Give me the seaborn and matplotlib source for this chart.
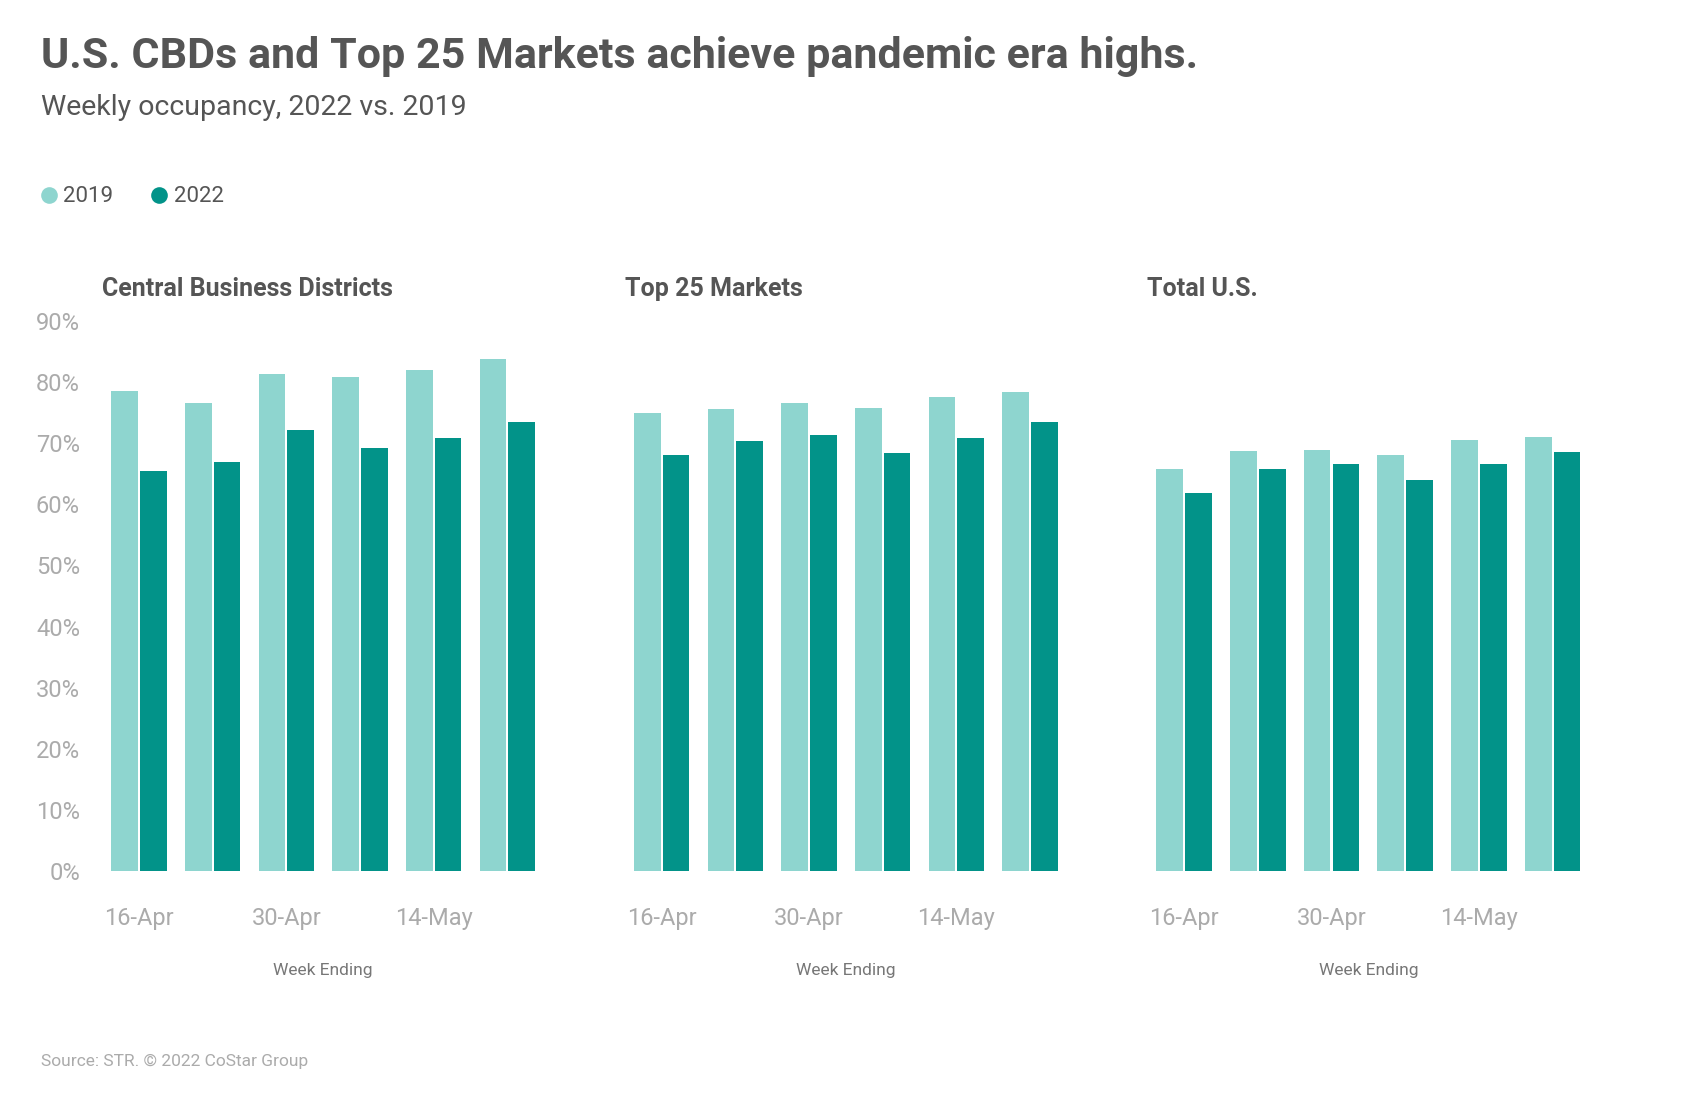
import pandas as pd
import matplotlib
matplotlib.use("Agg")
import matplotlib.pyplot as plt
import seaborn as sns
from matplotlib import font_manager
from matplotlib.lines import Line2D
from matplotlib.ticker import PercentFormatter

# ==========================================
# DATA (weekly occupancy, %)
# ==========================================
WEEKS = ["16-Apr", "23-Apr", "30-Apr", "7-May", "14-May", "21-May"]
YEARS = ["2019", "2022"]
PANELS = ["Central Business Districts", "Top 25 Markets", "Total U.S."]

cbd_2019 = [78.6, 76.5, 81.4, 80.8, 81.9, 83.8]
cbd_2022 = [65.4, 67.0, 72.2, 69.2, 70.9, 73.4]
top25_2019 = [75.0, 75.6, 76.6, 75.8, 77.6, 78.3]
top25_2022 = [68.0, 70.3, 71.4, 68.4, 70.9, 73.4]
total_2019 = [65.7, 68.8, 68.9, 68.1, 70.6, 71.0]
total_2022 = [61.9, 65.8, 66.6, 63.9, 66.6, 68.6]

COLORS = {"2019": "#8ED5CF", "2022": "#029389"}
DARK = "#555555"
LIGHT = "#ABABAB"

# ==========================================
# FONT
# ==========================================
installed = {f.name for f in font_manager.fontManager.ttflist}
FONT = "Liberation Sans Narrow" if "Liberation Sans Narrow" in installed else "Roboto"

sns.set_theme(style="white")
plt.rcParams["font.family"] = [FONT, "DejaVu Sans"]

# long-form table for seaborn
series = {
    PANELS[0]: (cbd_2019, cbd_2022),
    PANELS[1]: (top25_2019, top25_2022),
    PANELS[2]: (total_2019, total_2022),
}
rows = []
for panel, (v19, v22) in series.items():
    for year, vals in zip(YEARS, (v19, v22)):
        for week, v in zip(WEEKS, vals):
            rows.append({"panel": panel, "week": week, "year": year, "occ": v})
df = pd.DataFrame(rows)

# ==========================================
# FIGURE
# ==========================================
fig = plt.figure(figsize=(16.84, 10.94), dpi=100)

left0, pitch, width = 0.0607, 0.3103, 0.2625
bottom, height = 0.2038, 0.5028

for i, panel in enumerate(PANELS):
    ax = fig.add_axes([left0 + i * pitch, bottom, width, height])
    sns.barplot(data=df[df["panel"] == panel], x="week", y="occ", hue="year",
                order=WEEKS, hue_order=YEARS, palette=COLORS, saturation=1,
                width=0.78, gap=0.07, linewidth=0, legend=False, ax=ax)
    ax.set_xlim(-0.5, len(WEEKS) - 0.5)
    ax.set_ylim(0, 90)
    ax.set_yticks(range(0, 91, 10))
    ax.yaxis.set_major_formatter(PercentFormatter(decimals=0))
    ax.set_xticks([0, 2, 4])
    ax.set_xticklabels([WEEKS[0], WEEKS[2], WEEKS[4]])
    ax.tick_params(axis="x", length=0, pad=26, labelsize=17, labelcolor=LIGHT)
    ax.tick_params(axis="y", length=0, pad=16, labelsize=17, labelcolor=LIGHT)
    if i > 0:
        ax.tick_params(axis="y", labelleft=False)
    ax.set_xlabel("Week Ending", fontsize=12.5, color="#777777", labelpad=24)
    ax.set_ylabel("")
    for s in ax.spines.values():
        s.set_visible(False)
    ax.grid(False)
    ax.text(0, 1.045, panel, transform=ax.transAxes, fontsize=18,
            fontweight="bold", color=DARK, va="baseline", ha="left")

# titles
fig.text(0.0244, 0.938, "U.S. CBDs and Top 25 Markets achieve pandemic era highs.",
         fontsize=31, fontweight="bold", color=DARK, va="baseline")
fig.text(0.0244, 0.895, "Weekly occupancy, 2022 vs. 2019",
         fontsize=20.5, color=DARK, va="baseline")

# legend with round markers
handles = [Line2D([], [], marker="o", linestyle="", markersize=12,
                  markerfacecolor=COLORS[y], markeredgewidth=0) for y in YEARS]
fig.legend(handles, YEARS, loc="center left", bbox_to_anchor=(0.0245, 0.820),
           ncol=2, frameon=False, fontsize=16, handlelength=0.7,
           handletextpad=0.3, columnspacing=1.7, borderpad=0,
           borderaxespad=0, labelcolor=DARK)

fig.text(0.0244, 0.030, "Source: STR. \u00a9 2022 CoStar Group",
         fontsize=12.5, color=LIGHT, va="center")

plt.savefig("out.png", dpi=100)
